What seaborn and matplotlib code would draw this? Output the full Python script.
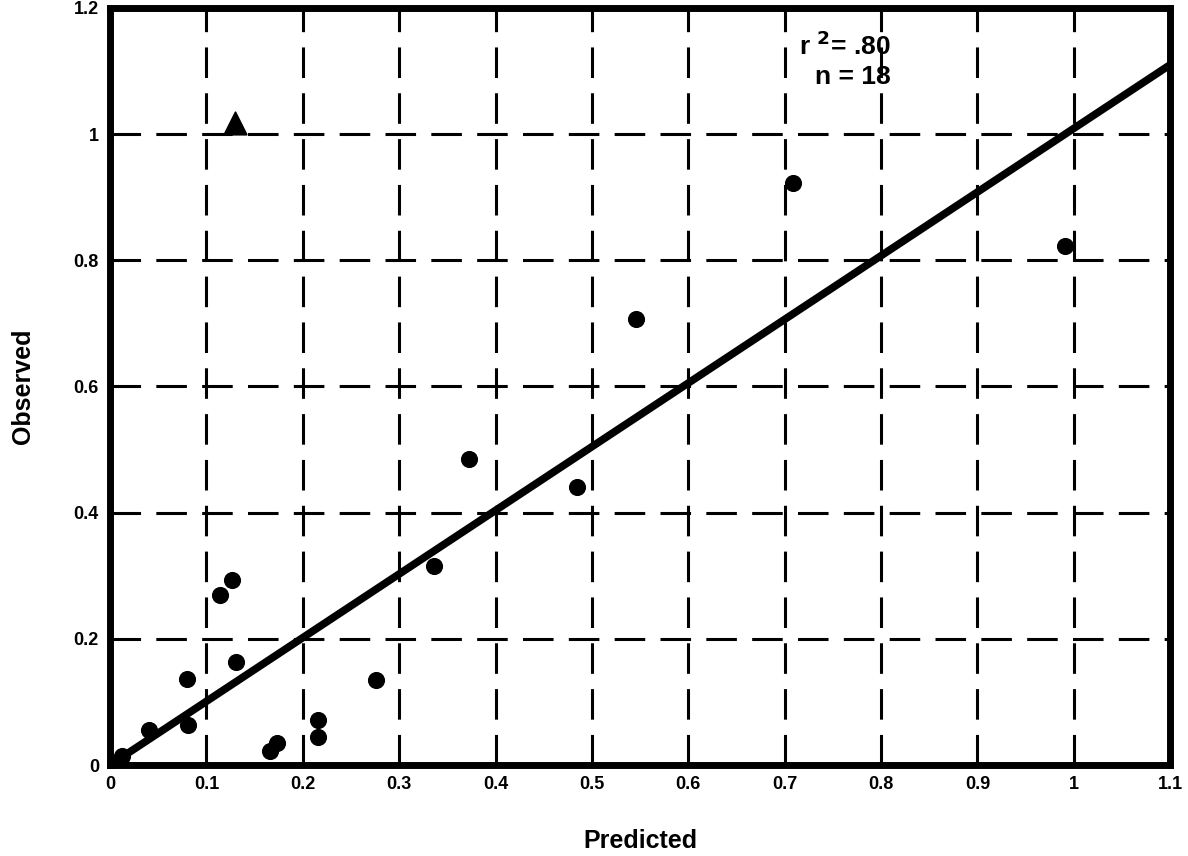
import matplotlib
matplotlib.use("Agg")
import matplotlib.pyplot as plt
import numpy as np
import pandas as pd
import seaborn as sns

# valores
predicted = [0.012, 0.040, 0.080, 0.081, 0.114, 0.127, 0.131, 0.166, 0.173,
             0.216, 0.216, 0.276, 0.336, 0.372, 0.485, 0.546, 0.709, 0.991]
observed = [0.015, 0.055, 0.136, 0.063, 0.270, 0.294, 0.163, 0.022, 0.035,
            0.071, 0.044, 0.134, 0.316, 0.485, 0.440, 0.707, 0.923, 0.822]
outlier_x = [0.130]
outlier_y = [1.018]
line_x = [0.0, 1.1]
line_y = [0.0, 1.11]
x_ticks = [0, 0.1, 0.2, 0.3, 0.4, 0.5, 0.6, 0.7, 0.8, 0.9, 1.0, 1.1]
x_labels = ["0", "0.1", "0.2", "0.3", "0.4", "0.5", "0.6", "0.7", "0.8", "0.9", "1", "1.1"]
y_ticks = [0, 0.2, 0.4, 0.6, 0.8, 1.0, 1.2]
y_labels = ["0", "0.2", "0.4", "0.6", "0.8", "1", "1.2"]

sns.set_style("white")
plt.rcParams['font.family'] = ['Liberation Sans', 'DejaVu Sans']
plt.rcParams['text.color'] = 'black'
plt.rcParams['axes.labelcolor'] = 'black'
plt.rcParams['xtick.color'] = 'black'
plt.rcParams['ytick.color'] = 'black'

df = pd.DataFrame({"Predicted": predicted, "Observed": observed})

fig = plt.figure(figsize=(11.88, 8.56), dpi=100)
ax = fig.add_axes([0.0926, 0.1063, 0.8924, 0.8844])

# rejilla discontinua
for xv in x_ticks[1:-1]:
    ax.axvline(xv, color="black", lw=2.2, ls=(0, (10, 5)), zorder=1)
for yv in y_ticks[1:-1]:
    ax.axhline(yv, color="black", lw=2.2, ls=(0, (10, 5)), zorder=1)

ax.plot(line_x, line_y, color="black", lw=5.5, zorder=2, solid_capstyle="butt")

sns.scatterplot(data=df, x="Predicted", y="Observed", ax=ax, color="black",
                s=130, edgecolor="black", zorder=3)
sns.scatterplot(x=outlier_x, y=outlier_y, ax=ax, color="black", marker="^",
                s=260, edgecolor="black", zorder=3)

ax.set_xlim(0, 1.1)
ax.set_ylim(0, 1.2)
ax.set_xticks(x_ticks)
ax.set_xticklabels(x_labels, fontsize=13, fontweight="bold")
ax.set_yticks(y_ticks)
ax.set_yticklabels(y_labels, fontsize=13, fontweight="bold")
ax.tick_params(length=0, pad=8)

for sp in ax.spines.values():
    sp.set_linewidth(5)
    sp.set_color("black")

ax.set_xlabel("Predicted", fontsize=18, fontweight="bold", labelpad=26)
ax.set_ylabel("Observed", fontsize=18, fontweight="bold", labelpad=28)

ax.text(0.81, 1.14, r"r $^{\mathbf{2}}$= .80", fontsize=19, fontweight="bold",
        ha="right", va="center")
ax.text(0.81, 1.09, "n = 18", fontsize=19, fontweight="bold",
        ha="right", va="center")

fig.savefig("out.png", dpi=100)
